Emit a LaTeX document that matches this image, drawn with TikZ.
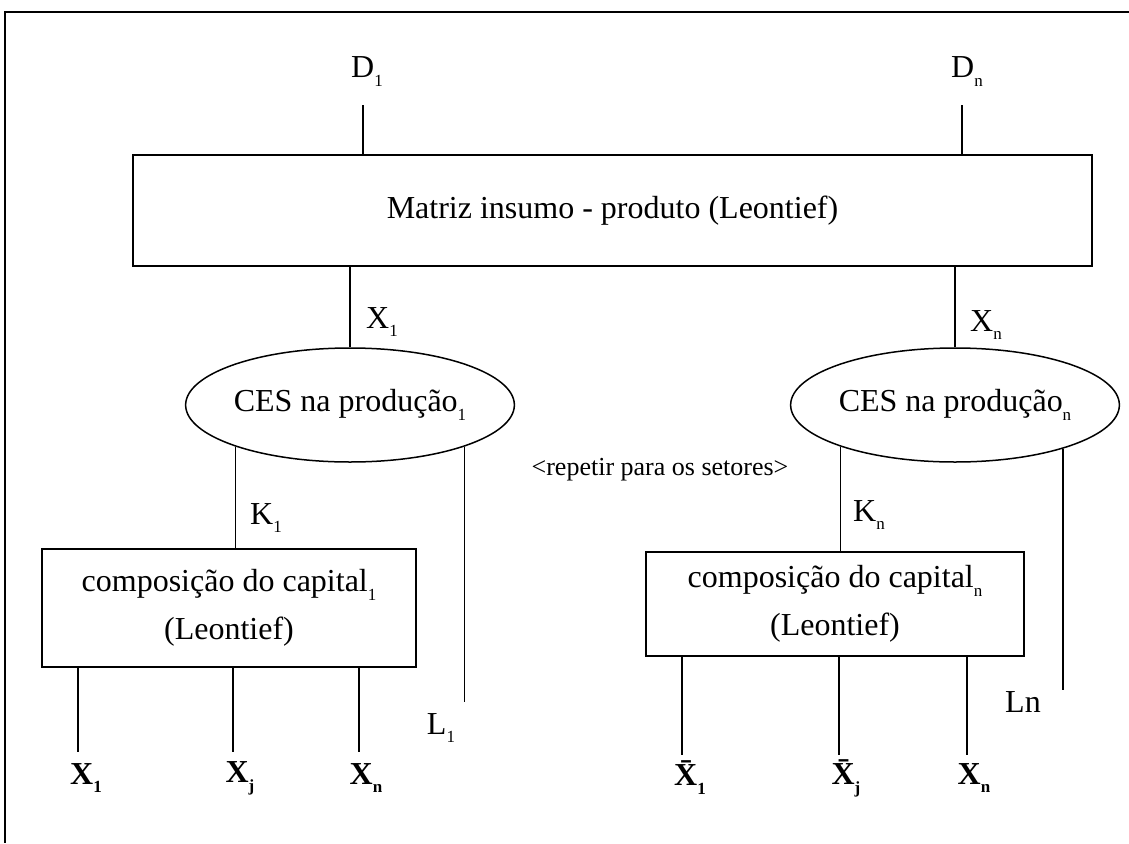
\documentclass[tikz,border=0pt]{standalone}
\usepackage{fontspec}
\setmainfont{Liberation Serif}
\usetikzlibrary{shapes.geometric}
\newcommand{\sbx}[1]{\raisebox{-0.28em}{\fontsize{17}{17}\selectfont #1}}
\begin{document}
\begin{tikzpicture}[x=1pt,y=-1pt,
  every node/.style={font=\fontsize{32}{36}\selectfont, inner sep=0pt},
  ln/.style={line width=1.5pt},
  boxnode/.style={draw, line width=1.5pt, align=center, font=\fontsize{32}{48}\selectfont},
  ellnode/.style={ellipse, draw, line width=1.5pt, minimum width=322pt, minimum height=114pt},
  botlab/.style={font=\fontsize{32}{36}\selectfont\bfseries}]
\useasboundingbox (0,0) rectangle (1129,843);
% frame
\coordinate (fTL) at (5,12); \coordinate (fTR) at (1129,12); \coordinate (fBL) at (5,843);
\draw[line width=2pt] (fTR) -- (fTL) -- (fBL);
% main box
\node[boxnode, minimum width=959pt, minimum height=111pt] (mat) at (612.5,210.5) {Matriz insumo - produto (Leontief)};
% ellipses
\node[ellnode] (e1) at (350,405) {CES na produção\sbx{1}};
\node[ellnode] (en) at (955,405) {CES na produção\sbx{n}};
% lower boxes
\node[boxnode, minimum width=374pt, minimum height=118pt] (box1) at (229,608) {composição do capital\sbx{1}\\(Leontief)};
\node[boxnode, minimum width=378pt, minimum height=104pt] (boxn) at (835,604) {composição do capital\sbx{n}\\(Leontief)};
% labels
\node (D1) at (367,72) {D\sbx{1}};
\node (Dn) at (967,72) {D\sbx{n}};
\node (X1u) at (382,322) {X\sbx{1}};
\node (Xnu) at (986,325) {X\sbx{n}};
\node (K1) at (266,518) {K\sbx{1}};
\node (Kn) at (869,515) {K\sbx{n}};
\node (L1) at (441,728) {L\sbx{1}};
\node (Ln) at (1023,702) {Ln};
\node[font=\fontsize{26}{30}\selectfont] (rep) at (660,470) {<repetir para os setores>};
\node[botlab] (a1) at (86,778) {X\sbx{1}};
\node[botlab] (aj) at (240,778) {X\sbx{j}};
\node[botlab] (an) at (366,778) {X\sbx{n}};
\node[botlab] (c1) at (690,778) {\={X}\sbx{1}};
\node[botlab] (cj) at (846,778) {\={X}\sbx{j}};
\node[botlab] (cn) at (974,778) {X\sbx{n}};
% connectors
\coordinate (d1e) at (363,105); \draw[ln] (d1e) -- (d1e |- mat.north);
\coordinate (dne) at (962,105); \draw[ln] (dne) -- (dne |- mat.north);
\draw[ln] (e1.north) -- (e1.north |- mat.south);
\draw[ln] (en.north) -- (en.north |- mat.south);
\draw[ln] (e1.200) -- (e1.200 |- box1.north);
\draw[ln] (en.200) -- (en.200 |- boxn.north);
\coordinate (l1e) at (465,702); \draw[ln] (e1.340) -- (e1.340 |- l1e);
\coordinate (lne) at (1058,690); \draw[ln] (en.338) -- (en.338 |- lne);
\coordinate (b11) at (78,752); \draw[ln] (b11 |- box1.south) -- (b11);
\coordinate (b12) at (233,752); \draw[ln] (b12 |- box1.south) -- (b12);
\coordinate (b13) at (359,752); \draw[ln] (b13 |- box1.south) -- (b13);
\coordinate (bn1) at (682,755); \draw[ln] (bn1 |- boxn.south) -- (bn1);
\coordinate (bn2) at (839,755); \draw[ln] (bn2 |- boxn.south) -- (bn2);
\coordinate (bn3) at (967,755); \draw[ln] (bn3 |- boxn.south) -- (bn3);
\end{tikzpicture}
\end{document}
